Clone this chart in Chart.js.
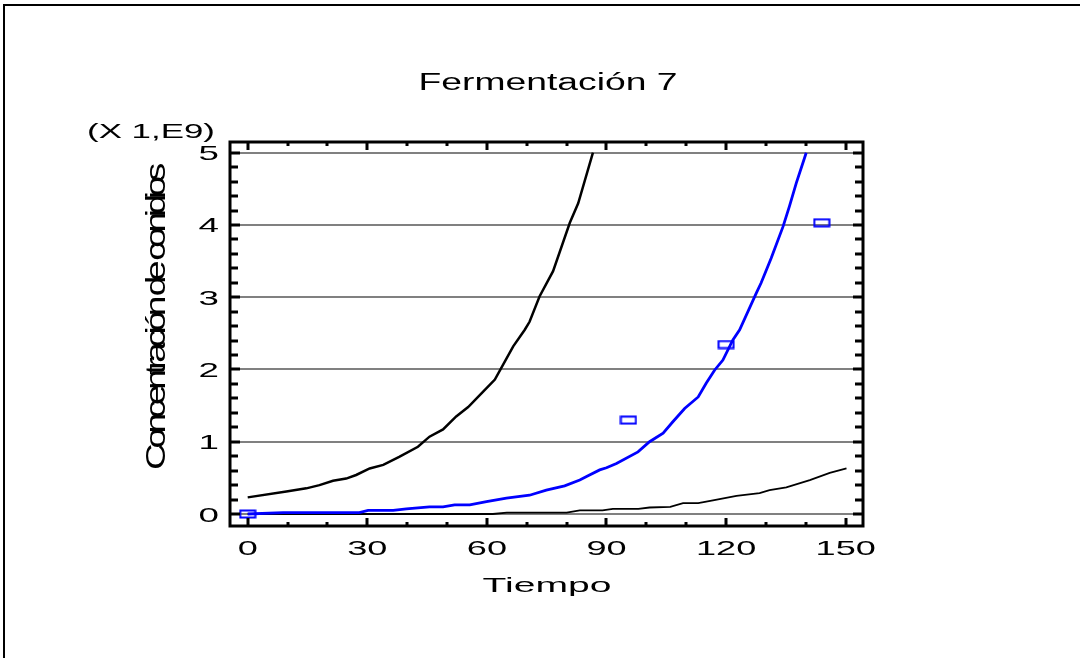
<!DOCTYPE html>
<html>
<head>
<meta charset="utf-8">
<script src="https://cdn.jsdelivr.net/npm/chart.js@4.4.1/dist/chart.umd.min.js"></script>
<style>
    body { margin: 0; background: #fff; }
    #chart { display: block; }
</style>
</head>
<body>
<canvas id="chart" width="1080" height="658"></canvas>
<script>
// Fermentación 7 (y in units of 1E9)
const upperX = [0, 9.7, 14.7, 18, 21.4, 24.7, 27.2, 30.6, 34, 38, 42.7, 45.6, 49, 52.3, 55.3, 59, 62, 64, 66.6, 69.5, 70.7, 73.2, 76.6, 80.8, 82.9, 86.6];
const upperY = [0.23, 0.31, 0.355, 0.40, 0.46, 0.49, 0.54, 0.63, 0.68, 0.79, 0.93, 1.07, 1.17, 1.35, 1.48, 1.69, 1.86, 2.06, 2.32, 2.55, 2.66, 3.01, 3.36, 4.03, 4.30, 5.0];

const fitX = [0, 8.9, 28, 30.2, 36.5, 39.8, 45.6, 49, 51.9, 55.7, 59.9, 64.9, 70.7, 74.9, 79.5, 83.3, 85, 88.3, 90, 92.5, 97.9, 100.8, 104.2, 106.7, 109.6, 113, 115, 117.1, 119.2, 121.7, 123.4, 127.6, 128.8, 131.3, 134.3, 135.9, 137.6, 140.1];
const fitY = [0, 0.02, 0.02, 0.05, 0.05, 0.07, 0.10, 0.10, 0.125, 0.125, 0.17, 0.22, 0.26, 0.33, 0.39, 0.47, 0.52, 0.61, 0.64, 0.70, 0.86, 1.00, 1.12, 1.28, 1.46, 1.62, 1.81, 1.99, 2.13, 2.41, 2.55, 3.06, 3.20, 3.54, 3.98, 4.26, 4.58, 5.0];

const lowerX = [0, 61.5, 65, 80, 83.3, 89, 91.6, 98, 100.8, 106, 109.2, 113, 116.7, 122.6, 128.4, 130.9, 135.1, 141, 146, 150.2];
const lowerY = [0, 0, 0.02, 0.02, 0.05, 0.05, 0.07, 0.07, 0.09, 0.10, 0.15, 0.15, 0.19, 0.25, 0.29, 0.33, 0.37, 0.47, 0.57, 0.63];

const obsX = [0, 95.5, 120, 144];
const obsY = [0, 1.30, 2.345, 4.03];

const xLabels = [0, 30, 60, 90, 120, 150];
const xMinorTicks = [0, 10, 20, 30, 40, 50, 60, 70, 80, 90, 100, 110, 120, 130, 140, 150];
const yLabels = [0, 1, 2, 3, 4, 5];
const yMinorTicks = [0, 0.2, 0.4, 0.6, 0.8, 1, 1.2, 1.4, 1.6, 1.8, 2, 2.2, 2.4, 2.6, 2.8, 3, 3.2, 3.4, 3.6, 3.8, 4, 4.2, 4.4, 4.6, 4.8, 5];

const titleText = 'Fermentación 7';
const xTitleText = 'Tiempo';
const yTitleText = 'Concentración de conidios';
const yUnitText = '(X 1,E9)';

const FONT = '"Liberation Sans", Arial, sans-serif';

const toPoints = (xs, ys) => xs.map((x, i) => ({ x: x, y: ys[i] }));

// hollow blue box used as the observation marker
function makeBoxMarker() {
    const c = document.createElement('canvas');
    c.width = 18;
    c.height = 10;
    const g = c.getContext('2d');
    g.strokeStyle = '#0000ff';
    g.lineWidth = 2;
    g.strokeRect(1.5, 1.5, 15, 7);
    return c;
}

function stretchedText(ctx, text, x, y, size, sx, align) {
    ctx.save();
    ctx.translate(x, y);
    ctx.scale(sx, 1);
    ctx.font = size + 'px ' + FONT;
    ctx.textAlign = align;
    ctx.textBaseline = 'alphabetic';
    ctx.fillStyle = '#000';
    ctx.fillText(text, 0, 0);
    ctx.restore();
}

const decorPlugin = {
    id: 'decor',
    beforeDraw(chart) {
        const ctx = chart.ctx;
        ctx.save();
        ctx.fillStyle = '#fff';
        ctx.fillRect(0, 0, chart.width, chart.height);
        // outer frame, cut off on the right and bottom
        ctx.strokeStyle = '#000';
        ctx.lineWidth = 2;
        ctx.beginPath();
        ctx.moveTo(4, chart.height);
        ctx.lineTo(4, 5);
        ctx.lineTo(chart.width, 5);
        ctx.stroke();
        ctx.restore();
    },
    afterDraw(chart) {
        const ctx = chart.ctx;
        const a = chart.chartArea;
        const xs = chart.scales.x;
        const ys = chart.scales.y;

        ctx.save();
        ctx.strokeStyle = '#000';
        ctx.lineCap = 'butt';

        // inward ticks on all four sides
        ctx.lineWidth = 3;
        xMinorTicks.forEach(v => {
            const px = Math.round(xs.getPixelForValue(v));
            const len = xLabels.includes(v) ? 8 : 4;
            ctx.beginPath();
            ctx.moveTo(px, a.bottom);
            ctx.lineTo(px, a.bottom - len);
            ctx.moveTo(px, a.top);
            ctx.lineTo(px, a.top + len);
            ctx.stroke();
        });
        yMinorTicks.forEach(v => {
            const py = Math.round(ys.getPixelForValue(v));
            const len = yLabels.includes(v) ? 10 : 8;
            ctx.beginPath();
            ctx.moveTo(a.left, py);
            ctx.lineTo(a.left + len, py);
            ctx.moveTo(a.right, py);
            ctx.lineTo(a.right - len, py);
            ctx.stroke();
        });

        // plot frame
        ctx.lineWidth = 3;
        ctx.strokeRect(a.left, a.top, a.right - a.left, a.bottom - a.top);
        ctx.restore();

        // tick labels
        xLabels.forEach(v => {
            stretchedText(ctx, String(v), xs.getPixelForValue(v), a.bottom + 29, 21, 1.72, 'center');
        });
        yLabels.forEach(v => {
            stretchedText(ctx, String(v), a.left - 11, ys.getPixelForValue(v) + 7.5, 21, 1.75, 'right');
        });

        // titles
        stretchedText(ctx, titleText, 548, 90, 23, 1.62, 'center');
        stretchedText(ctx, xTitleText, 547, 592, 21, 1.86, 'center');
        stretchedText(ctx, yUnitText, 151, 138, 21, 1.66, 'center');

        // squeezed vertical axis title
        ctx.save();
        ctx.translate(165, 319);
        ctx.rotate(-Math.PI / 2);
        ctx.scale(1.85, 1.4);
        ctx.font = '20px ' + FONT;
        ctx.letterSpacing = '-2.9px';
        ctx.textAlign = 'center';
        ctx.textBaseline = 'alphabetic';
        ctx.fillStyle = '#000';
        ctx.fillText(yTitleText, 0, 0);
        ctx.restore();
    }
};

const ctx = document.getElementById('chart').getContext('2d');
new Chart(ctx, {
    type: 'scatter',
    data: {
        datasets: [
            {
                label: 'Observado',
                data: toPoints(obsX, obsY),
                showLine: false,
                pointStyle: makeBoxMarker(),
                pointRadius: 6,
                order: 0
            },
            {
                label: 'Ajuste',
                data: toPoints(fitX, fitY),
                showLine: true,
                borderColor: '#0000ff',
                borderWidth: 2.8,
                pointRadius: 0,
                tension: 0,
                order: 1
            },
            {
                label: 'Límite superior',
                data: toPoints(upperX, upperY),
                showLine: true,
                borderColor: '#000',
                borderWidth: 2.5,
                pointRadius: 0,
                tension: 0,
                order: 2
            },
            {
                label: 'Límite inferior',
                data: toPoints(lowerX, lowerY),
                showLine: true,
                borderColor: '#000',
                borderWidth: 1.8,
                pointRadius: 0,
                tension: 0,
                order: 3
            }
        ]
    },
    options: {
        responsive: false,
        animation: false,
        events: [],
        layout: {
            padding: { left: 230, top: 142, right: 217, bottom: 132 }
        },
        plugins: {
            legend: { display: false },
            title: { display: false },
            tooltip: { enabled: false }
        },
        scales: {
            x: {
                type: 'linear',
                min: -4.44,
                max: 154.34,
                grid: { display: false, drawTicks: false },
                border: { display: false },
                ticks: { display: false },
                afterFit: s => { s.height = 0; }
            },
            y: {
                type: 'linear',
                min: -0.166,
                max: 5.148,
                afterBuildTicks: s => { s.ticks = yLabels.map(v => ({ value: v })); },
                grid: { color: '#808080', lineWidth: 2, drawTicks: false },
                border: { display: false },
                ticks: { display: false },
                afterFit: s => { s.width = 0; }
            }
        }
    },
    plugins: [decorPlugin]
});
</script>
</body>
</html>
